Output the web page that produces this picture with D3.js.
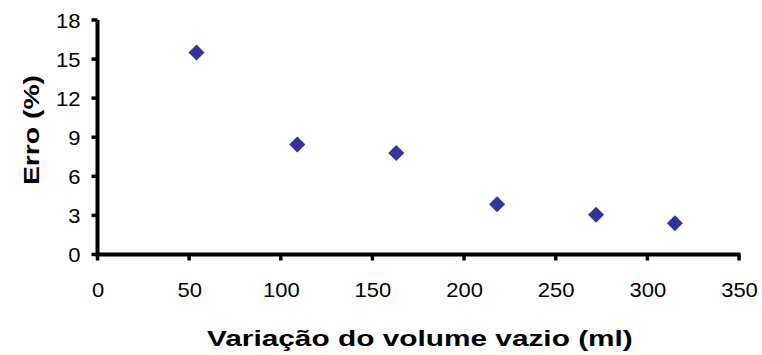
<!DOCTYPE html>
<html>
<head>
<meta charset="utf-8">
<script src="https://cdn.jsdelivr.net/npm/d3@7"></script>
<style>
  html, body { margin: 0; padding: 0; background: #fff; }
  svg { display: block; font-family: "Liberation Sans", Arial, sans-serif; }
  .axis .tick text { fill: #000; font-family: "Liberation Sans", Arial, sans-serif; font-size: 20px; }
</style>
</head>
<body>
<svg id="chart" width="762" height="355"></svg>
<script>
// Volume variation (ml) vs. relative error (%)
const volumeVariation = [54, 109, 163, 218, 272, 315];
const errorPercent = [15.5, 8.45, 7.8, 3.85, 3.05, 2.4];
const xTicks = [0, 50, 100, 150, 200, 250, 300, 350];
const yTicks = [0, 3, 6, 9, 12, 15, 18];

const svg = d3.select("#chart");
const plot = { left: 97.5, right: 739, top: 20, bottom: 254.5 };
const stretch = 1.1; // labels are drawn slightly widened

const x = d3.scaleLinear().domain([0, 350]).range([plot.left, plot.right]);
const y = d3.scaleLinear().domain([0, 18]).range([plot.bottom, plot.top]);

const xAxis = svg.append("g").attr("class", "axis")
  .attr("transform", `translate(0,${plot.bottom})`)
  .call(d3.axisBottom(x).tickValues(xTicks).tickSize(0).tickSizeOuter(0));

const yAxis = svg.append("g").attr("class", "axis")
  .attr("transform", `translate(${plot.left},0)`)
  .call(d3.axisLeft(y).tickValues(yTicks).tickSize(0).tickSizeOuter(0));

svg.selectAll(".axis .domain").remove();
svg.selectAll(".axis .tick line").remove();

// heavy axis lines and outward ticks
const axisLines = svg.append("g").attr("stroke", "#000");
axisLines.append("line")
  .attr("x1", plot.left).attr("x2", plot.right + 1.5)
  .attr("y1", plot.bottom).attr("y2", plot.bottom)
  .attr("stroke-width", 4);
axisLines.append("line")
  .attr("x1", plot.left).attr("x2", plot.left)
  .attr("y1", plot.top).attr("y2", plot.bottom + 2)
  .attr("stroke-width", 4);
axisLines.selectAll(".xt").data(xTicks).join("line").attr("class", "xt")
  .attr("x1", d => x(d)).attr("x2", d => x(d))
  .attr("y1", plot.bottom).attr("y2", plot.bottom + 6)
  .attr("stroke-width", 3.5);
axisLines.selectAll(".yt").data(yTicks).join("line").attr("class", "yt")
  .attr("x1", plot.left - 6).attr("x2", plot.left)
  .attr("y1", d => y(d)).attr("y2", d => y(d))
  .attr("stroke-width", 3.5);

// widen tick labels around their anchor
xAxis.selectAll(".tick text")
  .attr("y", 0).attr("dy", null)
  .attr("transform", `translate(0,42.5) scale(${stretch},1)`);
yAxis.selectAll(".tick text")
  .attr("x", 0).attr("dy", "0.35em")
  .attr("transform", `translate(-17,0) scale(${stretch},1)`);

// markers
const diamond = d3.symbol().type(d3.symbolSquare).size(128);
svg.append("g").selectAll("path")
  .data(volumeVariation.map((v, i) => [v, errorPercent[i]]))
  .join("path")
  .attr("d", diamond)
  .attr("transform", d => `translate(${x(d[0])},${y(d[1])}) rotate(45)`)
  .attr("fill", "#333399");

// axis titles, widened to their drawn extent
function fitText(sel, width) {
  const natural = sel.node().getComputedTextLength();
  return width / natural;
}
const xTitle = svg.append("text")
  .style("font-size", "22.5px").style("font-weight", "bold").style("fill", "#000")
  .text("Variação do volume vazio (ml)");
const sx = fitText(xTitle, 426);
xTitle.attr("transform", `translate(207,345.5) scale(${sx},1)`);

const yTitle = svg.append("text")
  .style("font-size", "22px").style("font-weight", "bold").style("fill", "#000")
  .text("Erro (%)");
const sy = fitText(yTitle, 110);
yTitle.attr("transform", `translate(38.5,185) rotate(-90) scale(${sy},1)`);
</script>
</body>
</html>
